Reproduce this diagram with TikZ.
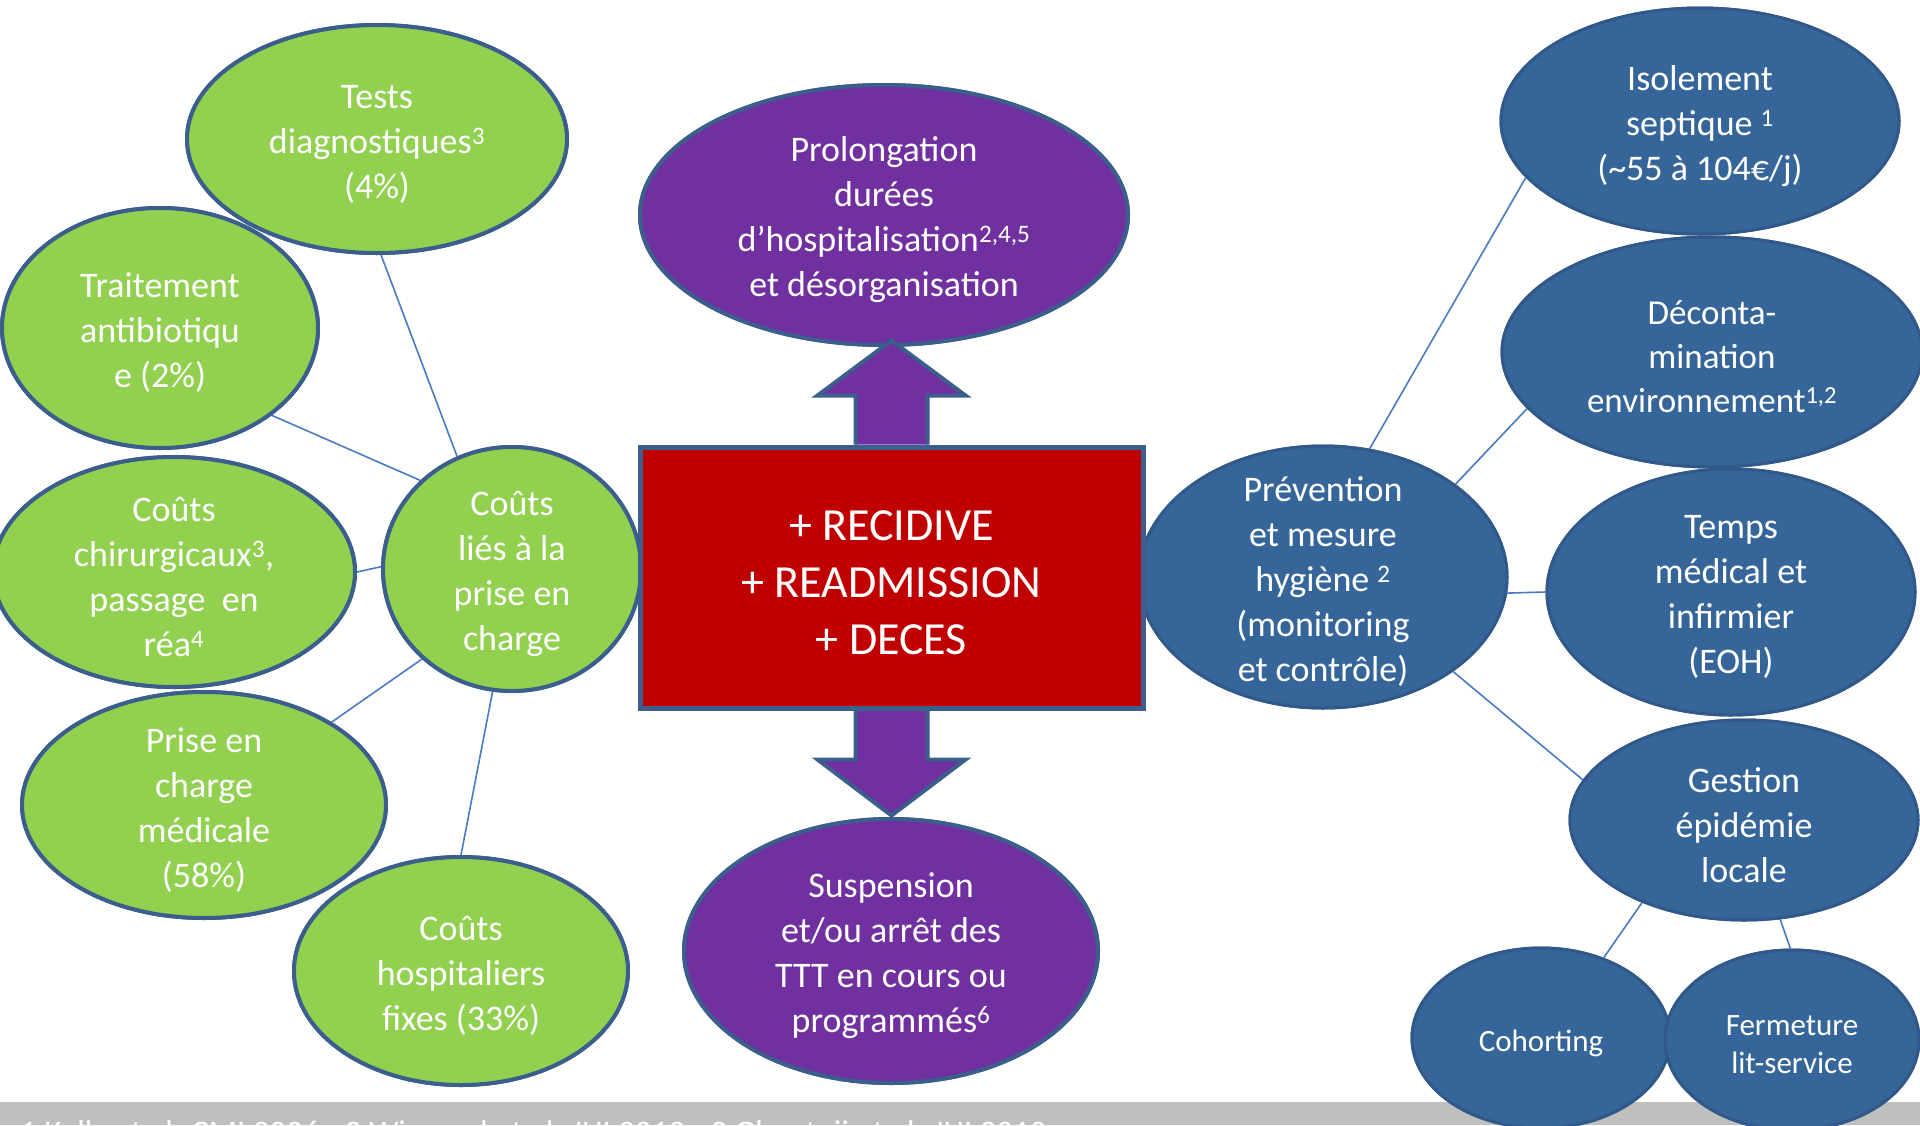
\documentclass[tikz,border=0pt]{standalone}
\usepackage{fontspec}
\setmainfont{Carlito}
\usetikzlibrary{shapes.geometric}
\definecolor{gfill}{HTML}{92D050}
\definecolor{pfill}{HTML}{7030A0}
\definecolor{bfill}{HTML}{366699}
\definecolor{bbord}{HTML}{30598A}
\definecolor{bord}{HTML}{3B5E8C}
\definecolor{boxred}{HTML}{C00000}
\definecolor{lcol}{HTML}{4A7BC0}
\definecolor{footgray}{HTML}{BFBFBF}
\begin{document}
\begin{tikzpicture}[x=1pt,y=-1pt,
  bub/.style={ellipse, inner sep=0pt, line width=4pt, draw=bord},
  gbub/.style={bub, fill=gfill},
  pbub/.style={bub, fill=pfill},
  bbub/.style={bub, fill=bfill, draw=bbord, line width=3pt},
  txt/.style={text=white, align=center, font=\fontsize{36}{45}\selectfont, inner sep=0pt, yshift=-5pt},
  smalltxt/.style={txt, font=\fontsize{31}{38}\selectfont},
  conn/.style={draw=lcol, line width=1.6pt},
  bigarrow/.style={fill=pfill, draw=bord, line width=4pt, line join=miter}]
\useasboundingbox (0,0) rectangle (1920,1125);

% footer band
\begin{scope}
  \clip (0,1102) rectangle (1920,1125);
  \fill[footgray] (0,1102) rectangle (1920,1125);
  \node[anchor=base west, text=white, font=\fontsize{33}{38}\selectfont, inner sep=0pt] (foot) at (20,1143)
    {1 Kelly et al. CMI 2006 - 2 Wiegand et al. JHI 2012 - 3 Ghantoji et al. JHI 2010};
\end{scope}

% ellipse shapes (named first, so connectors can refer to them)
\path
  node[gbub, minimum width=380, minimum height=228] (tests) at (377,139) {}
  node[gbub, minimum width=316, minimum height=240] (trait) at (160,328) {}
  node[gbub, minimum width=362, minimum height=230] (chir) at (174,572) {}
  node[gbub, minimum width=364, minimum height=226] (prise) at (204,805) {}
  node[gbub, minimum width=334, minimum height=228] (hosp) at (461,971) {}
  node[gbub, minimum width=258, minimum height=244] (hub) at (512,569) {}
  node[pbub, minimum width=488, minimum height=260] (prol) at (884,215) {}
  node[pbub, minimum width=414, minimum height=264] (susp) at (891,951) {}
  node[bbub, minimum width=398, minimum height=226] (isol) at (1700,121) {}
  node[bbub, minimum width=420, minimum height=230] (deco) at (1712,352) {}
  node[bbub, minimum width=368, minimum height=246] (temps) at (1731,592) {}
  node[bbub, minimum width=348, minimum height=200] (gest) at (1744,820) {}
  node[bbub, minimum width=368, minimum height=262] (prev) at (1323,577) {}
  node[bbub, minimum width=258, minimum height=180] (coh) at (1541,1038) {}
  node[bbub, minimum width=254, minimum height=180] (ferm) at (1792,1040) {};

% connectors
\draw[conn] (tests.-88.5) -- (hub.116);
\draw[conn] (trait.-38) -- (hub.136);
\draw[conn] (chir.0) -- (hub.179);
\draw[conn] (prise.33) -- (hub.-135);
\draw[conn] (hosp.90.5) -- (hub.-99);
\draw[conn] (isol.-162) -- (prev.70);
\draw[conn] (deco.-163.5) -- (prev.35);
\draw[conn] (prev.-5) -- (temps.180);
\draw[conn] (prev.-36) -- (gest.166);
\draw[conn] (gest.-141) -- (coh.52);
\draw[conn] (gest.-70) -- (ferm.91);

% redraw ellipses on top of connectors
\path
  node[gbub, minimum width=380, minimum height=228] at (tests) {}
  node[gbub, minimum width=316, minimum height=240] at (trait) {}
  node[gbub, minimum width=362, minimum height=230] at (chir) {}
  node[gbub, minimum width=364, minimum height=226] at (prise) {}
  node[gbub, minimum width=334, minimum height=228] at (hosp) {}
  node[gbub, minimum width=258, minimum height=244] at (hub) {}
  node[pbub, minimum width=488, minimum height=260] at (prol) {}
  node[pbub, minimum width=414, minimum height=264] at (susp) {}
  node[bbub, minimum width=398, minimum height=226] at (isol) {}
  node[bbub, minimum width=420, minimum height=230] at (deco) {}
  node[bbub, minimum width=368, minimum height=246] at (temps) {}
  node[bbub, minimum width=348, minimum height=200] at (gest) {}
  node[bbub, minimum width=368, minimum height=262] at (prev) {}
  node[bbub, minimum width=258, minimum height=180] at (coh) {}
  node[bbub, minimum width=254, minimum height=180] at (ferm) {};

% texts
\node[txt] (testsT) at (tests) {Tests\\diagnostiques\textsuperscript{3}\\(4\%)};
\node[txt] (traitT) at (trait) {Traitement\\antibiotiqu\\e (2\%)};
\node[txt] (chirT) at (chir) {Coûts\\chirurgicaux\textsuperscript{3},\\passage\ \ en\\réa\textsuperscript{4}};
\node[txt] (priseT) at (prise) {Prise en\\charge\\médicale\\(58\%)};
\node[txt] (hospT) at (hosp) {Coûts\\hospitaliers\\fixes (33\%)};
\node[txt] (hubT) at (hub) {Coûts\\liés à la\\prise en\\charge};
\node[txt] (prolT) at (prol) {Prolongation\\durées\\d’hospitalisation\textsuperscript{2,4,5}\\et désorganisation};
\node[txt] (suspT) at (susp) {Suspension\\et/ou arrêt des\\TTT en cours ou\\programmés\textsuperscript{6}};
\node[txt] (isolT) at (isol) {Isolement\\septique \textsuperscript{1}\\(\textasciitilde{}55 à 104€/j)};
\node[txt, font=\fontsize{35}{44}\selectfont] (decoT) at (deco) {Déconta-\\mination\\environnement\textsuperscript{1,2}};
\node[txt] (tempsT) at (temps) {Temps\\médical et\\infirmier\\(EOH)};
\node[txt] (gestT) at (gest) {Gestion\\épidémie\\locale};
\node[txt] (prevT) at (prev) {Prévention\\et mesure\\hygiène \textsuperscript{2}\\(monitoring\\et contrôle)};
\node[smalltxt] (cohT) at (coh) {Cohorting};
\node[smalltxt] (fermT) at (ferm) {Fermeture\\lit-service};

% central box
\node[draw=bord, line width=5pt, fill=boxred, minimum width=503, minimum height=261, inner sep=0pt] (box) at (891.5,577.5) {};
% block arrows
\draw[bigarrow, shift={(box.north)}] (-36,0) -- (-36,-49) -- (-74,-49) -- (0,-104) -- (74,-49) -- (36,-49) -- (36,0);
\draw[bigarrow, shift={(box.south)}] (-36,0) -- (-36,49) -- (-74,49) -- (0,105) -- (74,49) -- (36,49) -- (36,0);
\node[draw=bord, line width=5pt, fill=boxred, minimum width=503, minimum height=261, inner sep=0pt] at (box) {};
\node[txt, font=\fontsize{46}{57}\selectfont] (boxT) at (box) {+ RECIDIVE\\+ READMISSION\\+ DECES};
\end{tikzpicture}
\end{document}
